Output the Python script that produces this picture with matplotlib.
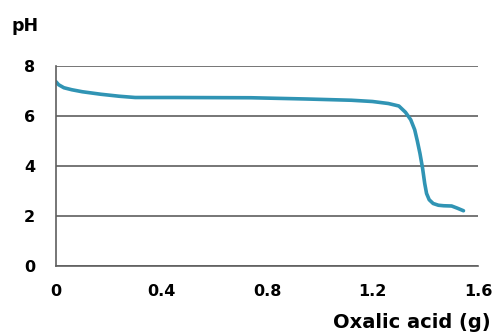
import matplotlib
matplotlib.use("Agg")
import matplotlib.pyplot as plt

oxalic_g = [0.0, 0.01, 0.03, 0.06, 0.10, 0.17, 0.24, 0.30, 0.45, 0.74, 0.95, 1.12, 1.20, 1.26, 1.30,
            1.325, 1.345, 1.36, 1.37, 1.38, 1.39, 1.398, 1.405, 1.415, 1.43, 1.45, 1.47, 1.50, 1.52, 1.545]
ph = [7.37, 7.25, 7.13, 7.05, 6.97, 6.87, 6.79, 6.74, 6.74, 6.73, 6.68, 6.63, 6.58, 6.50, 6.40,
      6.15, 5.85, 5.45, 5.00, 4.50, 3.90, 3.30, 2.90, 2.65, 2.50, 2.43, 2.41, 2.40, 2.32, 2.21]
x_ticks = [0, 0.4, 0.8, 1.2, 1.6]
x_tick_labels = ["0", "0.4", "0.8", "1.2", "1.6"]
y_ticks = [0, 2, 4, 6, 8]

fig = plt.figure(figsize=(4.96, 3.33), dpi=100)
ax = fig.add_axes([0.1129, 0.2012, 0.8508, 0.6006])
ax.plot(oxalic_g, ph, color="#3094b4", lw=2.6, solid_capstyle="round", solid_joinstyle="round")
ax.set_xlim(0, 1.6)
ax.set_ylim(0, 8)
ax.set_xticks(x_ticks)
ax.set_xticklabels(x_tick_labels)
ax.set_yticks(y_ticks)
ax.yaxis.grid(True, color="#5f5f5f", lw=1.2)
ax.set_axisbelow(True)
for s in ["top", "right"]:
    ax.spines[s].set_visible(False)
for s in ["left", "bottom"]:
    ax.spines[s].set_color("#5f5f5f")
    ax.spines[s].set_linewidth(1.2)
ax.tick_params(length=0, labelsize=11.5)
ax.tick_params(axis="y", pad=15)
ax.tick_params(axis="x", pad=13)
for lab in ax.get_xticklabels() + ax.get_yticklabels():
    lab.set_fontweight("bold")
fig.text(0.024, 0.921, "pH", fontsize=12.5, fontweight="bold", ha="left", va="center")
fig.text(0.671, 0.015, "Oxalic acid (g)", fontsize=14, fontweight="bold", ha="left", va="baseline")
fig.savefig("out.png", dpi=100)
